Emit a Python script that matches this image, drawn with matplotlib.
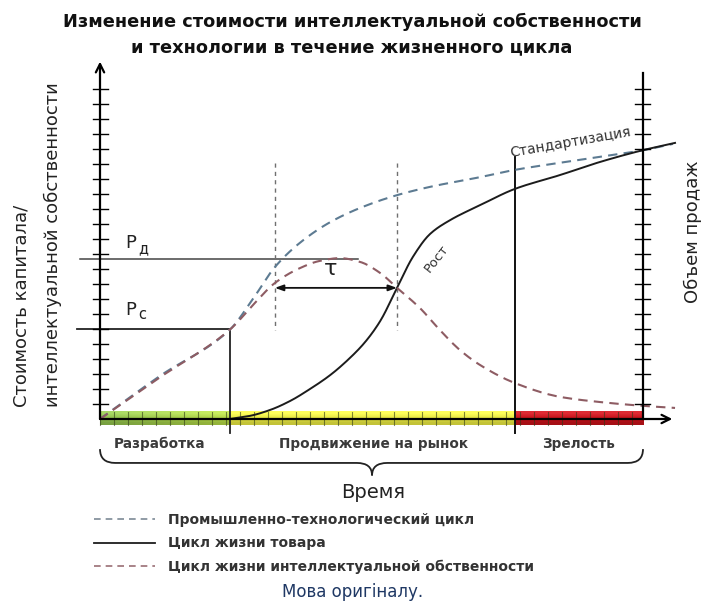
import numpy as np
import matplotlib
matplotlib.use("Agg")
import matplotlib.pyplot as plt
from matplotlib.path import Path
from matplotlib.patches import PathPatch
from matplotlib.lines import Line2D

# ---------------- data (time 0..100, value 0..100) ----------------
ind_t = [0, 11.0, 23.9, 28.5, 32.2, 36.8, 42.4, 47.9, 54.7, 60.8, 70.0, 76.4, 88.4, 100, 105.5]
ind_v = [0, 12.4, 25.8, 35.5, 43.9, 50.9, 56.9, 61.0, 64.7, 67.1, 69.9, 72.0, 74.9, 77.7, 79.5]

ip_t = [0, 11.0, 23.9, 28.5, 32.2, 36.8, 40.5, 44.2, 47.9, 51.6, 54.7, 58.9, 62.6, 66.3, 70.0, 76.4, 84.7, 92.1, 100, 105.9]
ip_v = [0, 12.0, 25.8, 33.5, 39.3, 43.6, 45.7, 46.5, 45.4, 42.2, 37.9, 32.1, 25.7, 19.9, 15.6, 10.4, 6.4, 4.9, 3.8, 3.2]

prod_t = [23.9, 27.6, 31.3, 35.0, 38.7, 42.4, 46.0, 48.8, 51.6, 54.7, 57.6, 60.8, 64.5, 70.0, 76.4, 84.7, 92.1, 100, 105.9]
prod_v = [0, 0.9, 2.6, 5.2, 8.7, 12.7, 17.6, 22.2, 28.3, 37.9, 46.8, 53.5, 57.5, 61.8, 66.5, 70.5, 74.3, 77.7, 79.8]

phase_bounds = [0, 23.9, 76.4, 100]
phase_labels = ["Разработка", "Продвижение на рынок", "Зрелость"]
phase_label_t = [11.0, 50.3, 88.2]
p_d = 46.2      # Рд
p_c = 26.0      # Рс
tau_t = [32.2, 54.7]
tau_v = 37.9
legend_labels = ["Промышленно-технологический цикл", "Цикл жизни товара",
                 "Цикл жизни интеллектуальной обственности"]

FONT = ["DejaVu Sans"]
plt.rcParams["font.family"] = FONT


def pchip(x, y, n=12):
    """Monotone cubic (Fritsch-Carlson) curve through the given points, for drawing."""
    x = np.asarray(x, float)
    y = np.asarray(y, float)
    h = np.diff(x)
    d = np.diff(y) / h
    m = np.zeros_like(y)
    m[0], m[-1] = d[0], d[-1]
    for k in range(1, len(x) - 1):
        if d[k - 1] * d[k] <= 0:
            m[k] = 0.0
        else:
            w1 = 2 * h[k] + h[k - 1]
            w2 = h[k] + 2 * h[k - 1]
            m[k] = (w1 + w2) / (w1 / d[k - 1] + w2 / d[k])
    xs, ys = [], []
    for k in range(len(x) - 1):
        s = np.linspace(0, 1, n, endpoint=(k == len(x) - 2))
        h00 = 2 * s**3 - 3 * s**2 + 1
        h10 = s**3 - 2 * s**2 + s
        h01 = -2 * s**3 + 3 * s**2
        h11 = s**3 - s**2
        xs.append(x[k] + s * h[k])
        ys.append(h00 * y[k] + h10 * h[k] * m[k] + h01 * y[k + 1] + h11 * h[k] * m[k + 1])
    return np.concatenate(xs), np.concatenate(ys)


W, H = 703, 605
fig = plt.figure(figsize=(W / 100, H / 100), dpi=100)
ax = fig.add_axes([100 / W, (H - 419) / H, 543 / W, 346 / H])
ax.set_xlim(0, 100)
ax.set_ylim(0, 100)
ax.axis("off")

# --------- coloured time bar ---------
n = 600
ts = np.linspace(0, 100, n)
base = np.zeros((n, 3))
g0, g1 = np.array([0.55, 0.74, 0.30]), np.array([0.70, 0.84, 0.27])
yel = np.array([0.90, 0.90, 0.26])
red = np.array([0.77, 0.07, 0.10])
for i, t in enumerate(ts):
    if t < phase_bounds[1]:
        f = t / phase_bounds[1]
        base[i] = g0 * (1 - f) + g1 * f
    elif t < phase_bounds[2]:
        base[i] = yel
    else:
        base[i] = red
top = np.clip(base + 0.10, 0, 1)
img = np.stack([top, base, base * 0.85])
ax.imshow(img, extent=(0, 100, -1.8, 2.1), aspect="auto", interpolation="bilinear",
          zorder=1, clip_on=False)
for t in np.arange(0, 100, 2.578):
    ax.plot([t, t], [-1.8, 2.1], color="#2f3a18", lw=0.8, alpha=0.6, zorder=2, clip_on=False)

# --------- axes with arrows ---------
arrow_kw = dict(arrowstyle="->,head_length=0.6,head_width=0.3", lw=1.6,
                color="black", shrinkA=0, shrinkB=0)
ax.annotate("", xy=(0, 103.3), xytext=(0, 0), arrowprops=arrow_kw,
            annotation_clip=False, zorder=5)
ax.annotate("", xy=(105.4, 0), xytext=(0, 0), arrowprops=arrow_kw,
            annotation_clip=False, zorder=5)
ax.plot([100, 100], [0, 100], color="black", lw=1.6, zorder=5, clip_on=False)
yt = np.arange(1, 23) * 4.335
for v in yt:
    ax.plot([-1.3, 1.4], [v, v], color="black", lw=1.0, zorder=5, clip_on=False)
    ax.plot([98.6, 101.3], [v, v], color="black", lw=1.0, zorder=5, clip_on=False)

# --------- reference lines ---------
ax.plot([-3.7, 47.5], [p_d, p_d], color="#444444", lw=1.1, zorder=3, clip_on=False)
ax.plot([-4.2, phase_bounds[1]], [p_c, p_c], color="#222222", lw=1.3, zorder=3, clip_on=False)
ax.plot([phase_bounds[1]] * 2, [p_c, -4.0], color="#222222", lw=1.3, zorder=3, clip_on=False)
ax.plot([phase_bounds[2]] * 2, [75.7, -4.0], color="#111111", lw=1.4, zorder=3, clip_on=False)
for t in tau_t:
    ax.plot([t, t], [74.0, 25.7], color="#707070", lw=1.0, ls=(0, (3, 3)), zorder=3)
ax.annotate("", xy=(tau_t[0], tau_v), xytext=(tau_t[1], tau_v),
            arrowprops=dict(arrowstyle="<|-|>,head_length=0.5,head_width=0.18", lw=1.3,
                            color="#111111", shrinkA=0, shrinkB=0), zorder=4)

# --------- curves ---------
l_ind, = ax.plot(*pchip(ind_t, ind_v), color="#5d7b92", lw=1.5, dashes=(4.5, 3),
                 zorder=4, clip_on=False)
l_prod, = ax.plot(*pchip(prod_t, prod_v), color="#1c1c1c", lw=1.4, zorder=4, clip_on=False)
l_ip, = ax.plot(*pchip(ip_t, ip_v), color="#8e5c63", lw=1.5, dashes=(4.5, 3),
                zorder=4, clip_on=False)

# --------- in-plot text ---------
ax.text(4.6, 49.4, "P", fontsize=13, color="#222222", ha="left", va="baseline")
ax.text(7.1, 48.0, "д", fontsize=10.5, color="#222222", ha="left", va="baseline")
ax.text(4.6, 30.2, "P", fontsize=13, color="#222222", ha="left", va="baseline")
ax.text(7.1, 28.8, "с", fontsize=10.5, color="#222222", ha="left", va="baseline")
ax.text(42.4, 43.4, "τ", fontsize=16, color="#222222", ha="center", va="center")
ax.text(61.9, 46.4, "Рост", fontsize=9.5, color="#333333", rotation=52, ha="center", va="center")
ax.text(86.6, 79.8, "Стандартизация", fontsize=10, color="#333333", rotation=10,
        ha="center", va="center")

for lab, t in zip(phase_labels, phase_label_t):
    ax.text(t, -7.2, lab, fontsize=9.8, color="#3a3a3a", ha="center", va="center",
            fontweight="bold")

# --------- brace ---------
x0, x1, xm = 0, 100, 50.1
yt0, yl, ytip = -8.7, -12.7, -16.3
r = 2.8
verts = [(x0, yt0), (x0, yl), (x0 + r, yl), (xm - r, yl), (xm, yl), (xm, ytip),
         (xm, yl), (xm + r, yl), (x1 - r, yl), (x1, yl), (x1, yt0)]
codes = [Path.MOVETO, Path.CURVE3, Path.CURVE3, Path.LINETO, Path.CURVE3, Path.CURVE3,
         Path.CURVE3, Path.CURVE3, Path.LINETO, Path.CURVE3, Path.CURVE3]
ax.add_patch(PathPatch(Path(verts, codes), fill=False, lw=1.3, color="#222222", clip_on=False))

# --------- outside text ---------
def fx(px):
    return px / W

def fy(py):
    return 1 - py / H

fig.text(fx(352), fy(22), "Изменение стоимости интеллектуальной собственности",
         fontsize=12.8, fontweight="bold", ha="center", va="center", color="#111111")
fig.text(fx(352), fy(47), "и технологии в течение жизненного цикла",
         fontsize=12.8, fontweight="bold", ha="center", va="center", color="#111111")
fig.text(fx(22), fy(407), "Стоимость капитала/", fontsize=13, rotation=90,
         ha="center", va="bottom", color="#222222")
fig.text(fx(53), fy(407), "интеллектуальной собственности", fontsize=13, rotation=90,
         ha="center", va="bottom", color="#222222")
fig.text(fx(693), fy(232), "Объем продаж", fontsize=13, rotation=90,
         ha="center", va="center", color="#222222")
fig.text(fx(373), fy(492), "Время", fontsize=14, ha="center", va="center", color="#222222")
fig.text(fx(353), fy(592), "Мова оригіналу.", fontsize=12, ha="center", va="center",
         color="#1f3864")

h1 = Line2D([], [], color="#7d8a96", lw=1.2, dashes=(4, 3))
h2 = Line2D([], [], color="#1c1c1c", lw=1.3)
h3 = Line2D([], [], color="#9a6e74", lw=1.2, dashes=(4, 3))
leg = fig.legend([h1, h2, h3], legend_labels, loc="upper left",
                 bbox_to_anchor=(fx(94), fy(513)), frameon=False, fontsize=10,
                 handlelength=4.4, handletextpad=0.9, labelspacing=0.68,
                 borderpad=0, borderaxespad=0)
for txt in leg.get_texts():
    txt.set_color("#333333")
    txt.set_fontweight("bold")

fig.savefig("out.png", dpi=100)
